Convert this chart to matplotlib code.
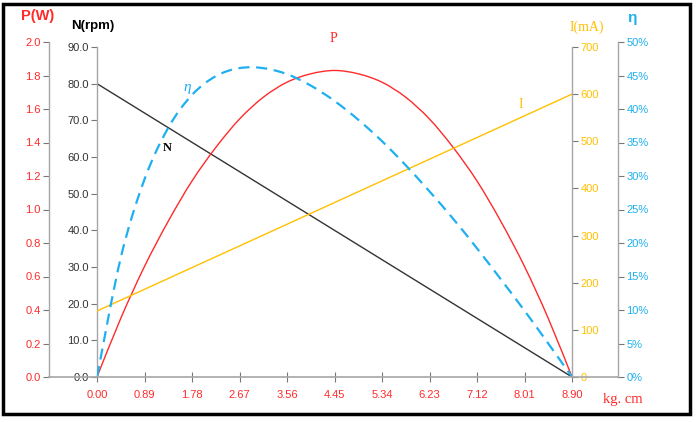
import matplotlib.pyplot as plt
from matplotlib.lines import Line2D
from matplotlib.patches import Rectangle, PathPatch
from matplotlib.path import Path

# --- data ---
torque = [0.0, 0.445, 0.89, 1.335, 1.78, 2.225, 2.67, 3.115, 3.56, 4.005, 4.45,
          4.895, 5.34, 5.785, 6.23, 6.675, 7.12, 7.565, 8.01, 8.455, 8.90]
speed_rpm = [80, 76, 72, 68, 64, 60, 56, 52, 48, 44, 40,
             36, 32, 28, 24, 20, 16, 12, 8, 4, 0]
current_ma = [140, 163, 186, 209, 232, 255, 278, 301, 324, 347, 370,
              393, 416, 439, 462, 485, 508, 531, 554, 577, 600]
power_w = [0.0, 0.35, 0.66, 0.93, 1.17, 1.37, 1.54, 1.67, 1.76, 1.81, 1.83,
           1.81, 1.76, 1.67, 1.54, 1.37, 1.17, 0.93, 0.66, 0.35, 0.0]
eff_pct = [0.0, 17.8, 29.5, 37.2, 42.1, 44.9, 46.1, 46.1, 45.2, 43.5, 41.2,
           38.4, 35.2, 31.6, 27.7, 23.6, 19.2, 14.6, 9.9, 5.0, 0.0]

x_ticks = [0.00, 0.89, 1.78, 2.67, 3.56, 4.45, 5.34, 6.23, 7.12, 8.01, 8.90]
p_ticks = [0.0, 0.2, 0.4, 0.6, 0.8, 1.0, 1.2, 1.4, 1.6, 1.8, 2.0]
n_ticks = [0, 10, 20, 30, 40, 50, 60, 70, 80, 90]
i_ticks = [0, 100, 200, 300, 400, 500, 600, 700]
e_ticks = [0, 5, 10, 15, 20, 25, 30, 35, 40, 45, 50]

RED = '#FF2A2A'
GOLD = '#FFC000'
BLUE = '#1EB0F0'
DARK = '#333333'
GRAY = '#A6A6A6'

W, H = 697, 422
plt.rcParams['font.family'] = 'Liberation Sans'


def fx(x):
    return x / W


def fy(y):
    return 1 - y / H


def smooth_path(xs, ys):
    # Excel-style smoothed line: Catmull-Rom segments as cubic Beziers
    pts = list(zip(xs, ys))
    verts = [pts[0]]
    codes = [Path.MOVETO]
    n = len(pts)
    for i in range(n - 1):
        p0 = pts[i - 1] if i > 0 else pts[i]
        p1 = pts[i]
        p2 = pts[i + 1]
        p3 = pts[i + 2] if i + 2 < n else pts[i + 1]
        c1 = (p1[0] + (p2[0] - p0[0]) / 6, p1[1] + (p2[1] - p0[1]) / 6)
        c2 = (p2[0] - (p3[0] - p1[0]) / 6, p2[1] - (p3[1] - p1[1]) / 6)
        verts += [c1, c2, p2]
        codes += [Path.CURVE4] * 3
    return Path(verts, codes)


fig = plt.figure(figsize=(6.97, 4.22), dpi=100)
# plot area in pixels: x 97..572, y 42..377
ax = fig.add_axes([fx(97), fy(377), (572 - 97) / W, (377 - 42) / H])
ax_p = ax.twinx()
ax_i = ax.twinx()
ax_e = ax.twinx()

span = 572 - 97

# N axis (black, inner left)
ax.plot(torque, speed_rpm, color=DARK, lw=1.0)
ax.set_ylim(0, 90 * 335 / 330)
ax.set_yticks(n_ticks)
ax.set_yticklabels([f'{v:.1f}' for v in n_ticks])

# P axis (red, outer left)
ax_p.add_patch(PathPatch(smooth_path(torque, power_w), fill=False,
                         edgecolor=RED, lw=1.0))
ax_p.set_ylim(0, 2.0)
ax_p.set_yticks(p_ticks)
ax_p.set_yticklabels([f'{v:.1f}' for v in p_ticks])
ax_p.yaxis.set_label_position('left')
ax_p.yaxis.tick_left()
ax_p.spines['left'].set_position(('axes', (49 - 97) / span))

# I axis (gold, inner right)
ax_i.plot(torque, current_ma, color=GOLD, lw=1.0)
ax_i.set_ylim(0, 700 * 335 / 330)
ax_i.set_yticks(i_ticks)

# eta axis (blue, outer right)
ax_e.add_patch(PathPatch(smooth_path(torque, eff_pct), fill=False,
                         edgecolor=BLUE, lw=1.6, linestyle=(0, (5, 3))))
ax_e.set_ylim(0, 50)
ax_e.set_yticks(e_ticks)
ax_e.set_yticklabels([f'{v}%' for v in e_ticks])
ax_e.spines['right'].set_position(('axes', (618 - 97) / span))

for a in (ax, ax_p, ax_i, ax_e):
    for s in a.spines.values():
        s.set_visible(False)
    a.set_xlim(0, 8.9)
    a.patch.set_visible(False)

for a, side in ((ax, 'left'), (ax_p, 'left'), (ax_i, 'right'), (ax_e, 'right')):
    a.spines[side].set_visible(True)
    a.spines[side].set_color(GRAY)
    a.spines[side].set_linewidth(1.0)
ax.spines['left'].set_bounds(0, 90)
ax_i.spines['right'].set_bounds(0, 700)

tick_kw = dict(labelsize=8, length=4, width=0.8, color='#777777', pad=2)
ax.tick_params(axis='y', labelcolor=DARK, **tick_kw)
ax_p.tick_params(axis='y', labelcolor=RED, **tick_kw)
ax_i.tick_params(axis='y', labelcolor=GOLD, **tick_kw)
ax_e.tick_params(axis='y', labelcolor=BLUE, **tick_kw)

# x axis
ax.set_xticks(x_ticks)
ax.set_xticklabels([f'{v:.2f}' for v in x_ticks])
ax.tick_params(axis='x', labelcolor=RED, labelsize=8, direction='inout',
               length=7, width=0.8, color='#777777', pad=6)
for a in (ax_p, ax_i, ax_e):
    a.tick_params(axis='x', bottom=False, labelbottom=False)

# baseline spanning all axes
fig.add_artist(Line2D([fx(49), fx(618)], [fy(377), fy(377)],
                      color=GRAY, lw=1.2, transform=fig.transFigure))

# axis titles
fig.text(fx(38), fy(16), 'P(W)', color=RED, fontsize=10.5, fontweight='bold',
         ha='center', va='center')
fig.text(fx(93), fy(26), 'N(rpm)', color='black', fontsize=9.5, fontweight='bold',
         ha='center', va='center')
fig.text(fx(587), fy(27), 'I(mA)', color=GOLD, fontsize=10, family='Liberation Serif',
         ha='center', va='center')
fig.text(fx(632), fy(18), 'η', color=BLUE, fontsize=11, fontweight='bold',
         ha='center', va='center')
fig.text(fx(623), fy(399), 'kg. cm', color=RED, fontsize=10.5, family='Liberation Serif',
         ha='center', va='center')

# curve labels
fig.text(fx(333), fy(38), 'P', color=RED, fontsize=10, family='Liberation Serif',
         ha='center', va='center')
fig.text(fx(521), fy(105), 'I', color=GOLD, fontsize=10, family='Liberation Serif',
         ha='center', va='center')
fig.text(fx(187), fy(88), 'η', color=BLUE, fontsize=11, family='Liberation Serif',
         style='italic', ha='center', va='center')
fig.text(fx(167), fy(148), 'N', color='black', fontsize=9, family='Liberation Serif',
         fontweight='bold', ha='center', va='center')

# frame around the figure
fig.add_artist(Rectangle((fx(3), fy(414)), fx(690) - fx(3), fy(4) - fy(414),
                         fill=False, edgecolor='black', lw=2.5,
                         transform=fig.transFigure))

fig.savefig('out.png', dpi=100)
